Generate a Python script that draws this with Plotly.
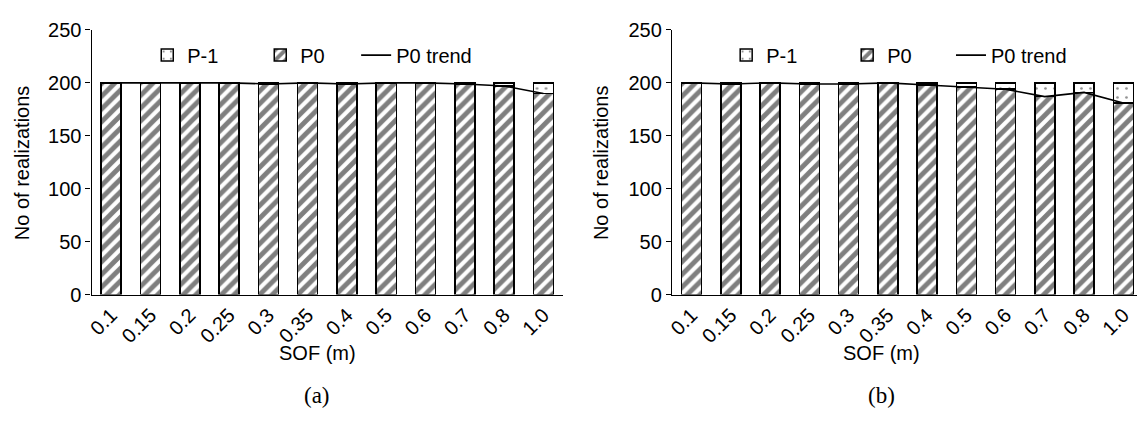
import plotly.graph_objects as go

# SOF spacing categories
sof = ["0.1", "0.15", "0.2", "0.25", "0.3", "0.35", "0.4", "0.5", "0.6", "0.7", "0.8", "1.0"]
total = 200

# Panel (a): realizations ending in P0
p0_a = [200, 200, 200, 200, 199, 200, 199, 200, 200, 199, 197, 190]
# Panel (b): realizations ending in P0
p0_b = [200, 199, 200, 199, 199, 200, 198, 196, 194, 187, 191, 181]

pm1_a = [total - v for v in p0_a]
pm1_b = [total - v for v in p0_b]

W, H = 1137, 425
FONT = "Liberation Sans, Arial, sans-serif"
SERIF = "Liberation Serif, Times New Roman, serif"

fig = go.Figure()


def add_panel(p0, pm1, xa, ya, leg_bars, leg_line):
    fig.add_trace(go.Bar(
        x=sof, y=p0, name="P0", xaxis=xa, yaxis=ya, legend=leg_bars, legendrank=2,
        marker=dict(color="white", line=dict(color="black", width=1.5),
                    pattern=dict(shape="/", size=9, solidity=0.55,
                                 fgcolor="black", bgcolor="white")),
    ))
    fig.add_trace(go.Bar(
        x=sof, y=pm1, name="P-1", xaxis=xa, yaxis=ya, legend=leg_bars, legendrank=1,
        marker=dict(color="white", line=dict(color="black", width=1.5),
                    pattern=dict(shape=".", size=9, solidity=0.07,
                                 fgcolor="#222", bgcolor="white")),
    ))
    fig.add_trace(go.Scatter(
        x=sof, y=p0, name="P0 trend", mode="lines", xaxis=xa, yaxis=ya,
        legend=leg_line, line=dict(color="black", width=1.6),
    ))


add_panel(p0_a, pm1_a, "x", "y", "legend", "legend3")
add_panel(p0_b, pm1_b, "x2", "y2", "legend2", "legend4")

ydom = [1 - 299 / H, 1 - 20 / H]

xcommon = dict(
    type="category", showline=True, linecolor="black", linewidth=1.3,
    ticks="", showgrid=False, tickangle=-45, zeroline=False,
    tickfont=dict(family=FONT, size=20, color="black"),
)
ycommon = dict(
    range=[0, 250], tickvals=[0, 50, 100, 150, 200, 250], showline=True,
    linecolor="black", linewidth=1.3, ticks="outside", ticklen=5,
    tickcolor="black", tickwidth=1.3, showgrid=False, zeroline=False,
    tickfont=dict(family=FONT, size=20, color="black"),
)

legcommon = dict(
    orientation="h", xanchor="left", yanchor="middle",
    font=dict(family=FONT, size=20, color="black"),
    bgcolor="rgba(0,0,0,0)", traceorder="normal",
    entrywidthmode="pixels",
)
leg_y = 1 - 46.5 / H

fig.update_layout(
    width=W, height=H,
    margin=dict(l=0, r=0, t=0, b=0),
    paper_bgcolor="white", plot_bgcolor="white",
    barmode="stack", bargap=0.49,
    xaxis=dict(domain=[86 / W, 560 / W], anchor="y", range=[-0.5, 11.5], **xcommon),
    yaxis=dict(domain=ydom, anchor="x", **ycommon),
    xaxis2=dict(domain=[669.5 / W, 1.0], anchor="y2", range=[-0.5, 11.35], **xcommon),
    yaxis2=dict(domain=ydom, anchor="x2", **ycommon),
    legend=dict(x=142 / W, y=leg_y, entrywidth=68, **legcommon),
    legend3=dict(x=352 / W, y=leg_y, **legcommon),
    legend2=dict(x=724 / W, y=leg_y, entrywidth=76, **legcommon),
    legend4=dict(x=950 / W, y=leg_y, **legcommon),
    showlegend=True,
)

# Axis titles and panel captions
for xc, label in [(313 / W, "(a)"), (880 / W, "(b)")]:
    fig.add_annotation(text="SOF (m)", xref="paper", yref="paper",
                       x=xc, y=1 - 361 / H, xanchor="center", yanchor="middle",
                       showarrow=False,
                       font=dict(family=FONT, size=20, color="black"))
    fig.add_annotation(text=label, xref="paper", yref="paper",
                       x=xc, y=1 - 406 / H, xanchor="center", yanchor="middle",
                       showarrow=False,
                       font=dict(family=SERIF, size=23, color="black"))

for xt in [16 / W, 598 / W]:
    fig.add_annotation(text="No of realizations", xref="paper", yref="paper",
                       x=xt, y=1 - 159.5 / H, xanchor="center", yanchor="middle",
                       showarrow=False, textangle=-90,
                       font=dict(family=FONT, size=20, color="black"))

fig.write_html("out.html")
